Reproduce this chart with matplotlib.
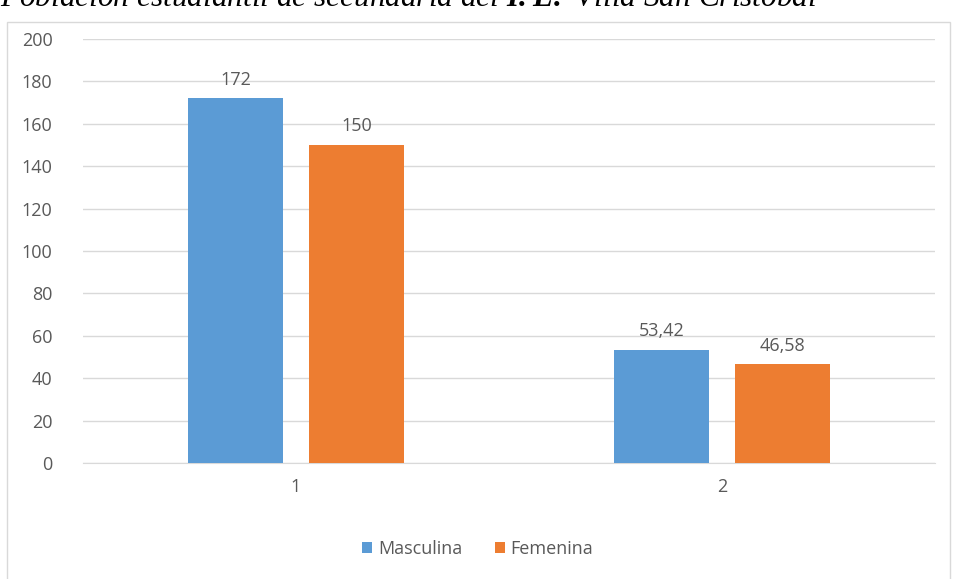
import matplotlib.pyplot as plt
from matplotlib.patches import Rectangle
import numpy as np

plt.rcParams['mathtext.fontset'] = 'custom'
plt.rcParams['mathtext.bf'] = 'Liberation Serif:italic:bold'

categorias = ['1', '2']
masculina = [172, 53.42]
femenina = [150, 46.58]
etiq_masc = ['172', '53,42']
etiq_fem = ['150', '46,58']

azul = '#5B9BD5'
naranja = '#ED7D31'
gris = '#595959'
fs = 13

fig = plt.figure(figsize=(9.55, 5.79), dpi=100)
fig.patches.append(Rectangle((7 / 955, -0.01), 943 / 955, 1 - 22 / 579 + 0.01,
                             transform=fig.transFigure, fill=False,
                             edgecolor='#D9D9D9', linewidth=1))
# titulo cortado arriba, como en la imagen original
fig.text(0.0, 1 - 6 / 579, r'Población estudiantil de secundaria del $\mathbf{I.E.}$ Villa San Cristóbal',
         family='Liberation Serif', style='italic', fontsize=22.5, va='baseline')

ax = fig.add_axes([83 / 955, 1 - 463 / 579, 852 / 955, 424 / 579])
x = np.arange(len(categorias))
w = 0.223
off = 0.142
b1 = ax.bar(x - off, masculina, w, color=azul, label='Masculina', zorder=3)
b2 = ax.bar(x + off, femenina, w, color=naranja, label='Femenina', zorder=3)
ax.bar_label(b1, labels=etiq_masc, padding=7, color=gris, fontsize=fs, family='Open Sans')
ax.bar_label(b2, labels=etiq_fem, padding=7, color=gris, fontsize=fs, family='Open Sans')

ax.set_xlim(-0.5, 1.5)
ax.set_ylim(0, 200)
ax.set_yticks(range(0, 201, 20))
ax.set_xticks(x)
ax.set_xticklabels(categorias)
ax.yaxis.grid(True, color='#D9D9D9', linewidth=1, zorder=0)
for s in ['top', 'right', 'left']:
    ax.spines[s].set_visible(False)
ax.spines['bottom'].set_color('#D9D9D9')
ax.tick_params(axis='y', length=0, colors=gris, labelsize=fs, pad=22)
ax.tick_params(axis='x', length=0, colors=gris, labelsize=fs, pad=11)
for t in ax.get_xticklabels() + ax.get_yticklabels():
    t.set_family('Open Sans')

fig.legend(handles=[b1, b2], loc='center', bbox_to_anchor=(0.5, 1 - 549 / 579), ncol=2,
           frameon=False, prop={'family': 'Open Sans', 'size': fs}, labelcolor=gris,
           handlelength=0.6, handleheight=0.6, handletextpad=0.3, columnspacing=1.8)

fig.savefig('out.png', dpi=100)
